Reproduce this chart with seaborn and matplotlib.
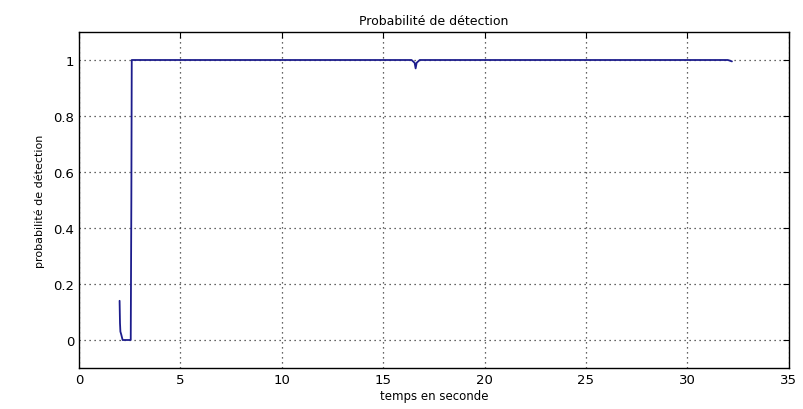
import pandas as pd
import matplotlib
matplotlib.use('Agg')
import matplotlib.pyplot as plt
import seaborn as sns

# Courbe de probabilité de détection
temps = [2.0, 2.02, 2.04, 2.08, 2.15, 2.25, 2.45, 2.55, 2.58, 2.6, 5.0, 10.0,
         16.4, 16.55, 16.6, 16.65, 16.8, 25.0, 32.0, 32.2]
proba = [0.14, 0.06, 0.03, 0.02, 0.0, 0.0, 0.0, 0.0, 0.5, 1.0, 1.0, 1.0,
         1.0, 0.99, 0.97, 0.99, 1.0, 1.0, 1.0, 0.995]

x_ticks = [0, 5, 10, 15, 20, 25, 30, 35]
y_ticks = [0, 0.2, 0.4, 0.6, 0.8, 1]

df = pd.DataFrame({'temps': temps, 'proba': proba})

sns.set_style('white')
plt.rcParams['font.family'] = ['DejaVu Sans']
plt.rcParams['text.color'] = 'black'
plt.rcParams['axes.labelcolor'] = 'black'
plt.rcParams['xtick.color'] = 'black'
plt.rcParams['ytick.color'] = 'black'

fig = plt.figure(figsize=(8.04, 4.10), dpi=100)
ax = fig.add_axes([0.0983, 0.10, 0.8827, 0.8195])

# Courbe
sns.lineplot(data=df, x='temps', y='proba', sort=False, estimator=None,
             color='#1c1c8c', linewidth=1.3, ax=ax)

ax.set_xlim(0, 35)
ax.set_ylim(-0.1, 1.1)
ax.set_xticks(x_ticks)
ax.set_yticks(y_ticks)
ax.set_yticklabels(['0', '0.2', '0.4', '0.6', '0.8', '1'])
ax.grid(True, linestyle=(0, (1, 3)), color='#333333', linewidth=0.9)
ax.tick_params(direction='in', top=True, right=True, length=4, labelsize=9.5)
for s in ax.spines.values():
    s.set_visible(True)
    s.set_color('black')
    s.set_linewidth(1.0)

ax.set_title('Probabilité de détection', fontsize=9)
ax.set_xlabel('temps en seconde', fontsize=8.5, labelpad=2)
ax.set_ylabel('probabilité de détection', fontsize=8, labelpad=6)

fig.savefig('out.png', dpi=100)
